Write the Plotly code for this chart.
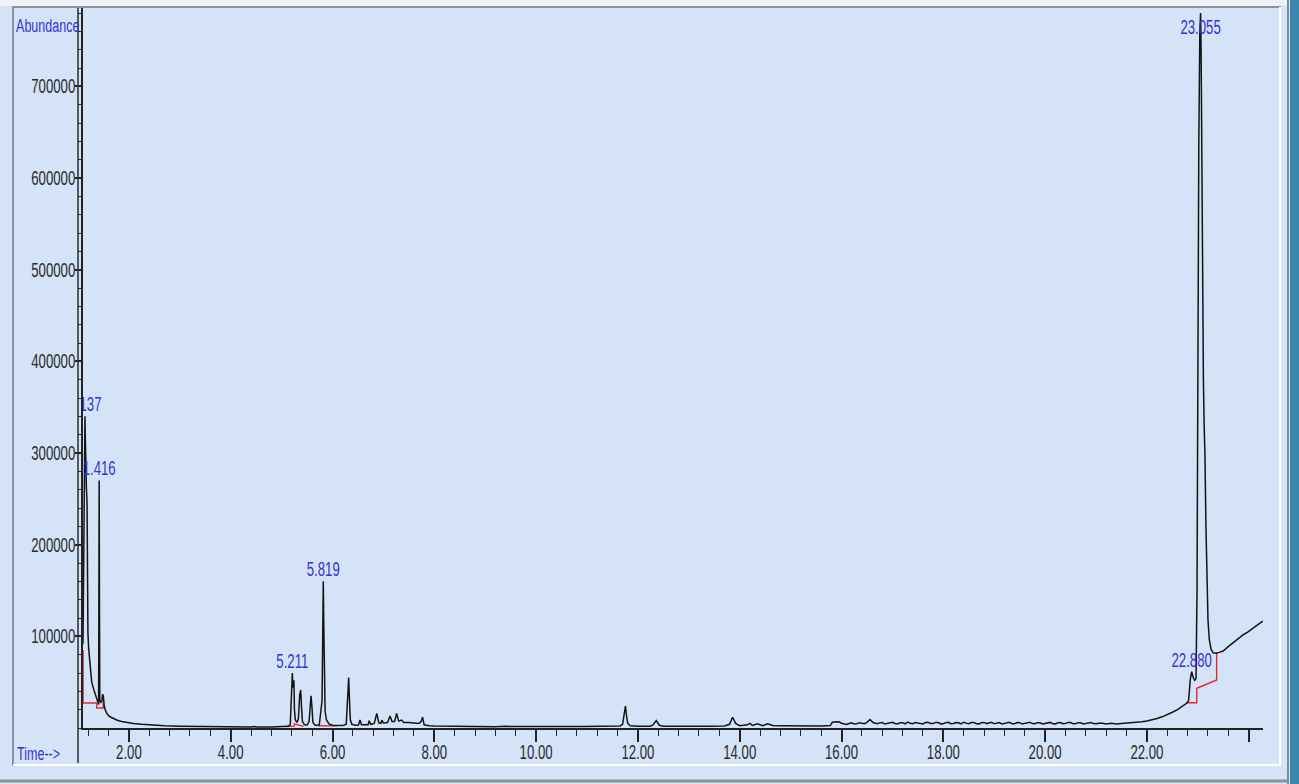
import plotly.graph_objects as go

# ---- chromatogram data (retention time in minutes, abundance in counts) ----
RT_EARLY = [1.098, 1.105, 1.115, 1.125, 1.132, 1.137, 1.143, 1.152, 1.165, 1.178,
            1.186, 1.195, 1.21, 1.235, 1.27, 1.31, 1.35, 1.385, 1.405, 1.411,
            1.416, 1.421, 1.428, 1.45, 1.47, 1.485, 1.50, 1.515, 1.54, 1.57,
            1.62, 1.68, 1.76, 1.86, 1.96, 2.09, 2.25, 2.41, 2.7, 3.0, 3.4]
AB_EARLY = [92000, 150000, 235000, 300000, 330000, 340000, 318000, 285000, 262000, 245000,
            150000, 104000, 86000, 68000, 50000, 42000, 34000, 27000, 25500, 150000,
            270000, 150000, 30000, 28000, 30000, 37000, 34000, 24000, 19000, 15500,
            12500, 10500, 8700, 7000, 6000, 5000, 4000, 3300, 2400, 1900, 1500]

RT_MID = [3.7, 3.75, 3.8, 4.1, 4.4, 4.45, 4.5, 4.8, 5.0, 5.12,
          5.17, 5.19, 5.200, 5.211, 5.222, 5.232, 5.242, 5.252, 5.27, 5.30,
          5.33, 5.355, 5.375, 5.392, 5.41, 5.45, 5.50, 5.54, 5.56, 5.578,
          5.595, 5.615, 5.66, 5.74, 5.795, 5.808, 5.819, 5.828, 5.838, 5.855,
          5.88, 5.93, 6.0, 6.1, 6.2, 6.27, 6.295, 6.318, 6.335, 6.35,
          6.38, 6.45, 6.51, 6.54, 6.57, 6.65, 6.70, 6.72, 6.75, 6.82,
          6.87, 6.91, 6.95, 6.97, 7.0, 7.08, 7.13, 7.17, 7.22, 7.26,
          7.30, 7.36, 7.40, 7.5, 7.6, 7.70, 7.74, 7.77, 7.80, 7.9, 8.0]
AB_MID = [1400, 1900, 1300, 1300, 1200, 1700, 1200, 1200, 1400, 1800,
          3500, 35000, 58000, 60000, 44000, 50000, 52000, 20000, 9000, 6000,
          10000, 36000, 41500, 22000, 7000, 3500, 3200, 7000, 28000, 35000,
          24000, 6000, 3000, 3200, 30000, 110000, 160000, 115000, 45000, 18000,
          9000, 4500, 3000, 2600, 2600, 4000, 30000, 55000, 28000, 9000,
          4000, 3000, 3200, 8700, 3500, 3200, 3500, 8000, 4000, 5000,
          16000, 5500, 5000, 8500, 5500, 6000, 13000, 7000, 7000, 16000,
          7500, 8700, 6000, 6000, 5800, 5000, 7000, 11700, 3500, 2400, 2200]

RT_FLAT = [8.2, 8.4, 8.6, 8.8, 9.0, 9.2, 9.4, 9.5, 9.8, 10.0,
           10.3, 10.6, 10.9, 11.2, 11.5, 11.65, 11.70, 11.73, 11.755, 11.78,
           11.80, 11.85, 12.0, 12.25, 12.30, 12.36, 12.42, 12.5, 12.8, 13.1,
           13.4, 13.7, 13.8, 13.86, 13.92, 14.0, 14.15, 14.2, 14.25, 14.35,
           14.45, 14.55, 14.65, 14.8, 15.0, 15.3, 15.6, 15.78, 15.82, 15.9,
           15.96, 16.0, 16.05, 16.1, 16.15, 16.2, 16.25, 16.3, 16.35, 16.4,
           16.45, 16.5, 16.56, 16.62, 16.7, 16.75, 16.8, 16.85, 16.9, 16.95,
           17.0, 17.05, 17.1, 17.15, 17.2, 17.25, 17.3, 17.35, 17.4, 17.45,
           17.5, 17.55, 17.6, 17.65, 17.7, 17.75, 17.8, 17.85, 17.9, 17.95,
           18.0, 18.05, 18.1, 18.15, 18.2, 18.25, 18.3, 18.35, 18.4, 18.45,
           18.5, 18.55, 18.6, 18.65, 18.7, 18.75, 18.8, 18.85, 18.9, 18.95,
           19.0, 19.05, 19.1, 19.15, 19.2, 19.25, 19.3, 19.35, 19.4, 19.45,
           19.5, 19.55, 19.6, 19.65, 19.7, 19.75, 19.8, 19.85, 19.9, 19.95,
           20.0, 20.05, 20.1, 20.15, 20.2, 20.25, 20.3, 20.35, 20.4, 20.45,
           20.5, 20.55, 20.6, 20.65, 20.7, 20.75, 20.8, 20.85, 20.9, 20.95,
           21.0, 21.1, 21.2, 21.3, 21.4, 21.5]
AB_FLAT = [2000, 1600, 1900, 1500, 1700, 1400, 1800, 1500, 1600, 1400,
           1700, 1500, 1500, 1700, 1800, 2200, 4000, 15000, 24000, 12000,
           5000, 2500, 1900, 1900, 3500, 8000, 3000, 2000, 1800, 2000,
           1900, 2200, 4000, 11700, 5000, 2500, 3500, 5000, 2800, 4500,
           2600, 4500, 2700, 2500, 2300, 2200, 2300, 2600, 6200, 6800,
           6500, 5200, 4300, 3800, 4900, 5600, 4300, 4600, 5800, 5400,
           4700, 6200, 9200, 6000, 4700, 5600, 6000, 4300, 4800, 5900,
           6300, 4900, 4500, 5700, 5800, 4600, 6400, 5200, 4700, 6000,
           5600, 4500, 4400, 5900, 6300, 4800, 5000, 6100, 5900, 4500,
           4600, 5800, 6200, 4700, 4900, 6000, 5700, 4400, 6300, 5300,
           4700, 5900, 5900, 4600, 4500, 5800, 6100, 4800, 5200, 6200,
           4600, 5700, 6000, 4400, 4900, 6100, 6200, 4700, 4700, 5900,
           5800, 4500, 5100, 6200, 6300, 4800, 4600, 5800, 5700, 4400,
           5000, 6000, 6100, 4600, 4500, 5700, 5900, 4700, 4800, 6100,
           6000, 4600, 4600, 5800, 5700, 4500, 5100, 6000, 6000, 4800,
           4700, 5500, 4500, 5300, 4400, 5000]

RT_LATE = [21.6, 21.7, 21.8, 21.9, 22.0, 22.1, 22.2, 22.3, 22.4, 22.5,
           22.6, 22.7, 22.78, 22.82, 22.85, 22.88, 22.91, 22.94, 22.965, 22.985,
           23.0, 23.02, 23.04, 23.055, 23.065, 23.075, 23.085, 23.095, 23.11, 23.125,
           23.14, 23.16, 23.18, 23.20, 23.225, 23.26, 23.30, 23.36, 23.42, 23.50,
           23.58, 23.66, 23.74, 23.82, 23.90, 23.98, 24.06, 24.14, 24.22, 24.28]
AB_LATE = [5300, 5600, 6200, 6800, 7600, 8800, 10300, 12200, 14500, 17200,
           20000, 23500, 27000, 30000, 52000, 61400, 55000, 52000, 54000, 150000,
           400000, 640000, 760000, 780000, 740000, 640000, 560000, 430000, 380000, 330000,
           300000, 220000, 140000, 118000, 97000, 86000, 82000, 81500, 82500, 84000,
           88000, 91500, 95000, 99000, 102000, 104500, 108000, 111000, 114500, 116500]

# integration baselines (None separates the drawn pieces)
BASE_RT = [1.100, 1.100, 1.367, 1.367, 1.497, 1.497, None,
           5.10, 5.25, 5.25, 5.43, None,
           5.72, 6.09, None,
           22.77, 22.98, 22.98, 23.37, 23.37]
BASE_AB = [85000, 27300, 27300, 21800, 21800, 31000, None,
           1500, 2000, 4500, 1800, None,
           2400, 2400, None,
           27600, 27600, 43300, 52400, 81500]

# labelled peaks (apex time and height); the tallest label hangs just under the frame top
PEAK_RT = [1.137, 1.416, 5.211, 5.819, 22.880, 23.055]
PEAK_AB = [340000, 270000, 60000, 160000, 61400, 780000]
PEAK_LABEL_AB = [340000, 270000, 60000, 160000, 61400, 774000]
PEAK_TEXT = ["1.137", "1.416", "5.211", "5.819", "22.880", "23.055"]
PEAK_POS = ["top center", "top center", "top center", "top center", "top center", "bottom center"]

X_TICKS = [2, 4, 6, 8, 10, 12, 14, 16, 18, 20, 22, 24]
X_TICK_LABELS = ["2.00", "4.00", "6.00", "8.00", "10.00", "12.00", "14.00",
                 "16.00", "18.00", "20.00", "22.00", ""]
Y_TICKS = [100000, 200000, 300000, 400000, 500000, 600000, 700000]
Y_TICK_LABELS = ["100000", "200000", "300000", "400000", "500000", "600000", "700000"]

# ---- page geometry ----
W, H = 1299, 784
ML, MR, MT, MB = 83, 36, 8, 56
PW, PH = W - ML - MR, H - MT - MB
X_RANGE = [1.0982, 24.281]
Y_RANGE = [0, 785450]

BG = "#d5e3f8"
INK = "#141414"
BLUE = "#3434d6"
FONT = "Liberation Sans, Arial, sans-serif"
FS = 20
NARROW_X = 0.66   # horizontal squeeze applied to every text element


def px(x, y):
    """pixel position on the page -> paper coordinates"""
    return (x - ML) / PW, (H - MB - y) / PH


def hline(x0, x1, y, color, width):
    a, b = px(x0, y)
    c, _ = px(x1, y)
    return dict(type="line", xref="paper", yref="paper", x0=a, x1=c, y0=b, y1=b,
                line=dict(color=color, width=width), layer="above")


def vline(x, y0, y1, color, width):
    a, b = px(x, y0)
    _, d = px(x, y1)
    return dict(type="line", xref="paper", yref="paper", x0=a, x1=a, y0=b, y1=d,
                line=dict(color=color, width=width), layer="above")


def box(x0, y0, x1, y1, color):
    a, b = px(x0, y0)
    c, d = px(x1, y1)
    return dict(type="rect", xref="paper", yref="paper", x0=a, x1=c, y0=b, y1=d,
                fillcolor=color, line=dict(width=0), layer="below")


rt = RT_EARLY + RT_MID + RT_FLAT + RT_LATE
ab = AB_EARLY + AB_MID + AB_FLAT + AB_LATE

fig = go.Figure()
fig.add_trace(go.Scatter(x=BASE_RT, y=BASE_AB, mode="lines",
                         line=dict(color="#e82828", width=1.4),
                         connectgaps=False, hoverinfo="skip"))
fig.add_trace(go.Scatter(x=rt, y=ab, mode="lines",
                         line=dict(color=INK, width=1.5)))
fig.add_trace(go.Scatter(x=PEAK_RT, y=PEAK_LABEL_AB, mode="text", text=PEAK_TEXT,
                         textposition=PEAK_POS, cliponaxis=True,
                         textfont=dict(family=FONT, size=FS, color=BLUE),
                         hoverinfo="skip"))

shapes = [
    box(0, 0, W, 6, "#eef1f6"),
    box(1290, 0, W, H, "#3a86ad"),
    hline(12, 1281, 7, "#8a929b", 2),
    vline(13, 7, 766, "#8a929b", 2),
    hline(13, 1281, 765, "#ffffff", 2),
    vline(1280, 7, 766, "#ffffff", 2),
    vline(1288, 0, H, "#7d8b98", 2),
    hline(0, 1288, 781, "#8a929b", 3),
    vline(78, 8, 763, "#2a2a2a", 1.5),
]

fig.update_layout(
    width=W, height=H,
    margin=dict(l=ML, r=MR, t=MT, b=MB, pad=0),
    paper_bgcolor=BG, plot_bgcolor=BG,
    showlegend=False,
    shapes=shapes,
    annotations=[
        dict(text="Abundance", xref="paper", yref="paper",
             x=px(14, 25)[0], y=px(14, 25)[1], xanchor="left", yanchor="middle",
             showarrow=False, font=dict(family=FONT, size=FS - 1, color=BLUE)),
        dict(text="Time-->", xref="paper", yref="paper",
             x=px(15, 753)[0], y=px(15, 753)[1], xanchor="left", yanchor="middle",
             showarrow=False, font=dict(family=FONT, size=FS - 1, color=BLUE)),
    ],
    xaxis=dict(range=X_RANGE, showgrid=False, zeroline=False,
               showline=True, linecolor="#222222", linewidth=2,
               tickmode="array", tickvals=X_TICKS, ticktext=X_TICK_LABELS,
               ticks="outside", ticklen=12, tickwidth=1.5, tickcolor="#222222",
               ticklabelstandoff=-7,
               minor=dict(dtick=0.4, tick0=0, ticks="outside", ticklen=6,
                          tickwidth=1.2, tickcolor="#222222", showgrid=False),
               tickfont=dict(family=FONT, size=FS, color="#2b2b2b")),
    yaxis=dict(range=Y_RANGE, showgrid=False, zeroline=False,
               showline=True, linecolor="#222222", linewidth=1.5,
               tickmode="array", tickvals=Y_TICKS, ticktext=Y_TICK_LABELS,
               ticks="outside", ticklen=6, tickwidth=1.5, tickcolor="#222222",
               ticklabelstandoff=-4,
               minor=dict(dtick=20000, tick0=0, ticks="outside", ticklen=3,
                          tickwidth=1, tickcolor="#222222", showgrid=False),
               tickfont=dict(family=FONT, size=FS, color="#2b2b2b")),
)

# narrow the lettering horizontally, keeping each label's anchor edge in place
SQUEEZE_JS = """
(function () {
  var gd = document.getElementById('{plot_id}');
  var SX = %s;
  var tag = 'scale(' + SX + ',1)';
  function squeeze() {
    var nodes = gd.querySelectorAll('svg text');
    for (var i = 0; i < nodes.length; i++) {
      var t = nodes[i];
      var tr = t.getAttribute('transform') || '';
      if (tr.indexOf(tag) >= 0) continue;
      var bb;
      try { bb = t.getBBox(); } catch (e) { continue; }
      if (!bb || !bb.width) continue;
      var anchor = t.getAttribute('text-anchor') || 'start';
      var cls = t.getAttribute('class') || '';
      var ax;
      if (cls.indexOf('annotation-text') >= 0) ax = bb.x;
      else if (anchor === 'end') ax = bb.x + bb.width;
      else if (anchor === 'middle') ax = bb.x + bb.width / 2;
      else ax = bb.x;
      t.setAttribute('transform', tr + ' translate(' + ax + ',0) ' + tag +
                     ' translate(' + (-ax) + ',0)');
    }
  }
  squeeze();
  if (gd.on) gd.on('plotly_afterplot', squeeze);
  setTimeout(squeeze, 50);
})();
""" % NARROW_X

fig.write_html("out.html", post_script=SQUEEZE_JS)
